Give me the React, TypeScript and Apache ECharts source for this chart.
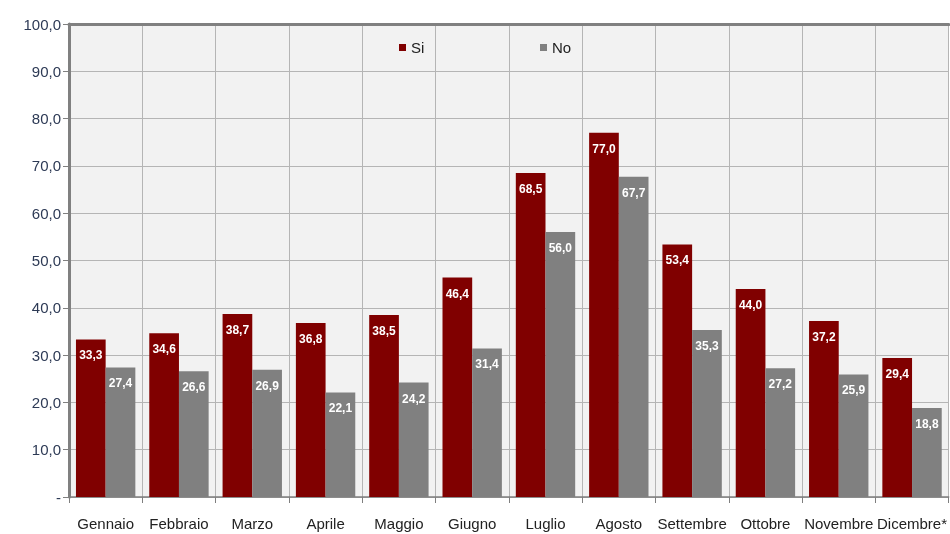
import React, { useEffect, useRef } from "react";
import * as echarts from "echarts";

const categories = ["Gennaio", "Febbraio", "Marzo", "Aprile", "Maggio", "Giugno", "Luglio", "Agosto", "Settembre", "Ottobre", "Novembre", "Dicembre*"];
const siValues = [33.3, 34.6, 38.7, 36.8, 38.5, 46.4, 68.5, 77.0, 53.4, 44.0, 37.2, 29.4];
const noValues = [27.4, 26.6, 26.9, 22.1, 24.2, 31.4, 56.0, 67.7, 35.3, 27.2, 25.9, 18.8];
const seriesNames = ["Si", "No"];

const fmt = (v: number) => (v === 0 ? "-" : v.toFixed(1).replace(".", ","));

export default function App() {
  const ref = useRef<HTMLDivElement>(null);
  useEffect(() => {
    if (!ref.current) return;
    const chart = echarts.init(ref.current, undefined, { renderer: "svg" });
    const labelStyle = {
      show: true,
      position: "insideTop" as const,
      distance: 10,
      color: "#ffffff",
      fontWeight: "bold" as const,
      fontSize: 12,
      fontFamily: "Liberation Sans, Arial, sans-serif",
      formatter: (p: any) => fmt(p.value),
    };
    chart.setOption({
      animation: false,
      textStyle: { fontFamily: "Liberation Sans, Arial, sans-serif" },
      legend: [
        {
          data: [seriesNames[0]],
          left: 394,
          top: 35,
          itemWidth: 7,
          itemHeight: 7,
          icon: "rect",
          itemGap: 5,
          textStyle: { fontSize: 15, color: "#222" },
        },
        {
          data: [seriesNames[1]],
          left: 535,
          top: 35,
          itemWidth: 7,
          itemHeight: 7,
          icon: "rect",
          textStyle: { fontSize: 15, color: "#222" },
        },
      ],
      grid: {
        left: 69,
        right: 0,
        top: 24,
        bottom: 37,
        show: true,
        backgroundColor: "#f2f2f2",
        borderWidth: 0,
      },
      xAxis: [
        {
          type: "category",
          data: categories,
          axisLine: { lineStyle: { color: "#7f7f7f", width: 1.5 } },
          axisTick: { show: true, length: 6, lineStyle: { color: "#7f7f7f" } },
          splitLine: { show: true, lineStyle: { color: "#b5b5b5", width: 1 } },
          axisLabel: { fontSize: 15, color: "#222", margin: 19, interval: 0 },
        },
        {
          type: "category",
          position: "top",
          data: categories,
          axisLine: { show: true, lineStyle: { color: "#808080", width: 3 } },
          axisTick: { show: false },
          axisLabel: { show: false },
        },
      ],
      yAxis: {
        type: "value",
        min: 0,
        max: 100,
        interval: 10,
        axisLine: { show: true, lineStyle: { color: "#808080", width: 3 } },
        axisTick: { show: true, length: 6, lineStyle: { color: "#808080" } },
        splitLine: { show: true, lineStyle: { color: "#b5b5b5", width: 1 } },
        axisLabel: { fontSize: 15, color: "#2d3a55", margin: 8, formatter: fmt },
      },
      series: [
        {
          name: seriesNames[0],
          type: "bar",
          data: siValues,
          itemStyle: { color: "#800000" },
          barGap: "0%",
          barCategoryGap: "19%",
          label: labelStyle,
        },
        {
          name: seriesNames[1],
          type: "bar",
          data: noValues,
          itemStyle: { color: "#808080" },
          barGap: "0%",
          barCategoryGap: "19%",
          label: labelStyle,
        },
      ],
    });
    return () => chart.dispose();
  }, []);
  return <div ref={ref} style={{ position: "fixed", left: 0, top: 0, width: 950, height: 534 }} />;
}
